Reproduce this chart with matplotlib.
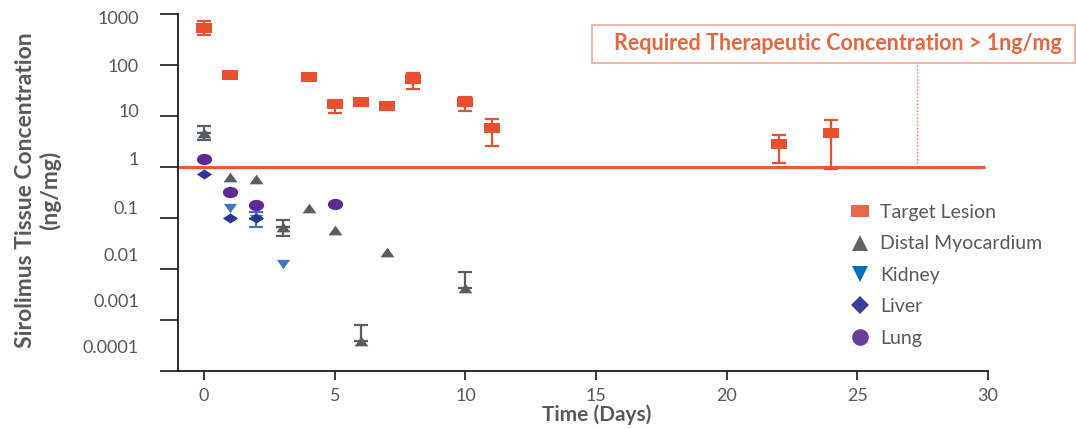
import numpy as np
import matplotlib
matplotlib.use("Agg")
import matplotlib.pyplot as plt
from matplotlib.path import Path
from matplotlib.lines import Line2D
from matplotlib.patches import Rectangle
from matplotlib.transforms import ScaledTranslation, Affine2D

plt.rcParams['font.family'] = ['Lato', 'DejaVu Sans']

# ---------------- data ----------------
tl_days = [0, 1, 4, 5, 6, 7, 8, 10, 11, 22, 24]
tl_vals = [540, 63, 57, 17, 19, 15.5, 52, 19, 5.7, 2.8, 4.6]
tl_err_lo = [150, 3, 2, 5.5, 2, 1.5, 18, 6.3, 3.1, 1.6, 3.7]
tl_err_hi = [200, 3, 2, 4, 2, 1.5, 19, 5, 3.2, 1.4, 3.9]

dm_days = [0, 1, 2, 3, 4, 5, 6, 7, 10]
dm_vals = [4.7, 0.65, 0.58, 0.067, 0.16, 0.057, 0.00038, 0.022, 0.0042]
dm_err_lo = [1.3, 0, 0, 0.023, 0, 0, 0, 0, 0]
dm_err_hi = [1.7, 0, 0, 0.026, 0, 0, 0.00043, 0, 0.0047]

kd_days = [1, 2, 3]
kd_vals = [0.16, 0.095, 0.0125]
kd_err_lo = [0, 0.029, 0]
kd_err_hi = [0, 0.035, 0]

lv_days = [0, 1, 2]
lv_vals = [0.73, 0.1, 0.1]

lg_days = [0, 1, 2, 5]
lg_vals = [1.44, 0.32, 0.18, 0.19]

threshold = 1
x_ticks = [0, 5, 10, 15, 20, 25, 30]
y_ticks = [1000, 100, 10, 1, 0.1, 0.01, 0.001, 0.0001]
y_tick_labels = ['1000', '100', '10', '1', '0.1', '0.01', '0.001', '0.0001']
y_label_shift_px = [5, 2, -4, -7, -9, -13, -18, -23]

series_names = ['Target Lesion', 'Distal Myocardium', 'Kidney', 'Liver', 'Lung']

# ---------------- styles ----------------
c_tl = '#E8502F'
c_dm = '#595D62'
c_kd = '#3F74C8'
c_lv = '#2B3595'
c_lg = '#5F2B93'
c_line = '#EE5A2C'
c_txt = '#595959'

def mk(verts):
    return Path(verts + [verts[0]], closed=True)

rect_m = mk([(-1, -0.62), (1, -0.62), (1, 0.62), (-1, 0.62)])
tri_up = mk([(-1, -0.7), (1, -0.7), (0, 0.7)])
tri_dn = mk([(-1, 0.7), (1, 0.7), (0, -0.7)])
diam_m = mk([(0, 0.66), (1, 0), (0, -0.66), (-1, 0)])
circ = Path.unit_circle()
ell_m = Path(Affine2D().scale(1, 0.74).transform(circ.vertices), circ.codes)

fig = plt.figure(figsize=(10.76, 4.29), dpi=100)
ax = fig.add_axes([178/1076, 1-371/429, (988-178)/1076, (371-14)/429])
ax.set_yscale('log')
ax.set_xlim(-1, 30)
ax.set_ylim(1e-4, 1e3)

# threshold line
ax.hlines(threshold, -1, 29.9, color=c_line, lw=2.3, zorder=2)

def draw(days, vals, lo, hi, color, marker, ms):
    if lo is not None:
        for i in range(len(days)):
            l, h = lo[i], hi[i]
            # draw each side separately so a zero side gets no cap
            if h > 0:
                ax.errorbar([days[i]], [vals[i]], yerr=[[0], [h]], fmt='none',
                            ecolor=color, elinewidth=1.6, capsize=5, capthick=1.6,
                            zorder=3)
            if l > 0:
                ax.errorbar([days[i]], [vals[i]], yerr=[[l], [0]], fmt='none',
                            ecolor=color, elinewidth=1.6, capsize=5, capthick=1.6,
                            zorder=3)
    ax.plot(days, vals, linestyle='none', marker=marker, markersize=ms,
            color=color, markeredgewidth=0, zorder=4)

draw(dm_days, dm_vals, dm_err_lo, dm_err_hi, c_dm, tri_up, 10)
draw(kd_days, kd_vals, kd_err_lo, kd_err_hi, c_kd, tri_dn, 9.5)
draw(lv_days, lv_vals, None, None, c_lv, diam_m, 11)
draw(lg_days, lg_vals, None, None, c_lg, ell_m, 11)
draw(tl_days, tl_vals, tl_err_lo, tl_err_hi, c_tl, rect_m, 11)

# axes styling
for s in ['top', 'right']:
    ax.spines[s].set_visible(False)
for s in ['left', 'bottom']:
    ax.spines[s].set_linewidth(1.3)
    ax.spines[s].set_color('#1a1a1a')

ax.set_xticks(x_ticks)
ax.set_xticklabels([str(t) for t in x_ticks])
ax.tick_params(axis='x', direction='out', length=6.5, width=1.2, pad=5.5,
               labelsize=13, labelcolor=c_txt, color='#1a1a1a')
ax.set_yticks(y_ticks)
ax.yaxis.set_minor_locator(matplotlib.ticker.NullLocator())
ax.set_yticklabels([''] * len(y_ticks))
ax.tick_params(axis='y', direction='out', length=13, width=1.2, color='#1a1a1a')

for val, lab, sh in zip(y_ticks, y_tick_labels, y_label_shift_px):
    tr = ax.get_yaxis_transform() + ScaledTranslation(-39/100, -sh/100, fig.dpi_scale_trans)
    ax.text(0, val, lab, transform=tr, ha='right', va='center',
            fontsize=13, color=c_txt)

fig.text(38/1076, 1-190/429, 'Sirolimus Tissue Concentration\n(ng/mg)',
         rotation=90, ha='center', va='center', multialignment='center',
         fontsize=16.5, fontweight='bold', color=c_txt, linespacing=1.15)
fig.text(597/1076, 1-415/429, 'Time (Days)', ha='center', va='center',
         fontsize=15, fontweight='bold', color=c_txt)

# annotation box
fig.patches.append(Rectangle((592/1076, 1-63/429), (1075-592)/1076, 38/429,
                             transform=fig.transFigure, fill=False,
                             edgecolor='#F3AE9C', lw=1.3))
fig.text(838/1076, 1-44/429, 'Required Therapeutic Concentration > 1ng/mg',
         ha='center', va='center', fontsize=15.5, fontweight='bold', color='#E8663F')
ax.plot([27.3, 27.3], [threshold, 110], linestyle=(0, (1, 1.5)), lw=1.0,
        color='#F07050', clip_on=False, zorder=1)

# legend
leg_colors = ['#E8694A', '#636363', '#0070C0', '#3A3D99', '#6B3E9A']
leg_markers = [mk([(-1, -0.62), (1, -0.62), (1, 0.62), (-1, 0.62)]), '^', 'v', 'D', 'o']
leg_ms = [13, 11, 11, 9, 12]
handles = [Line2D([], [], linestyle='none', marker=m, markersize=s, color=c,
                  markeredgewidth=0)
           for m, s, c in zip(leg_markers, leg_ms, leg_colors)]
leg = ax.legend(handles, series_names, loc='upper left',
                bbox_to_anchor=(850/1076, 1-204/429), bbox_transform=fig.transFigure,
                frameon=False, fontsize=14, handlelength=1.0, handletextpad=0.55,
                labelspacing=0.74, borderpad=0, borderaxespad=0)
for t in leg.get_texts():
    t.set_color(c_txt)

fig.savefig('out.png', dpi=100)
